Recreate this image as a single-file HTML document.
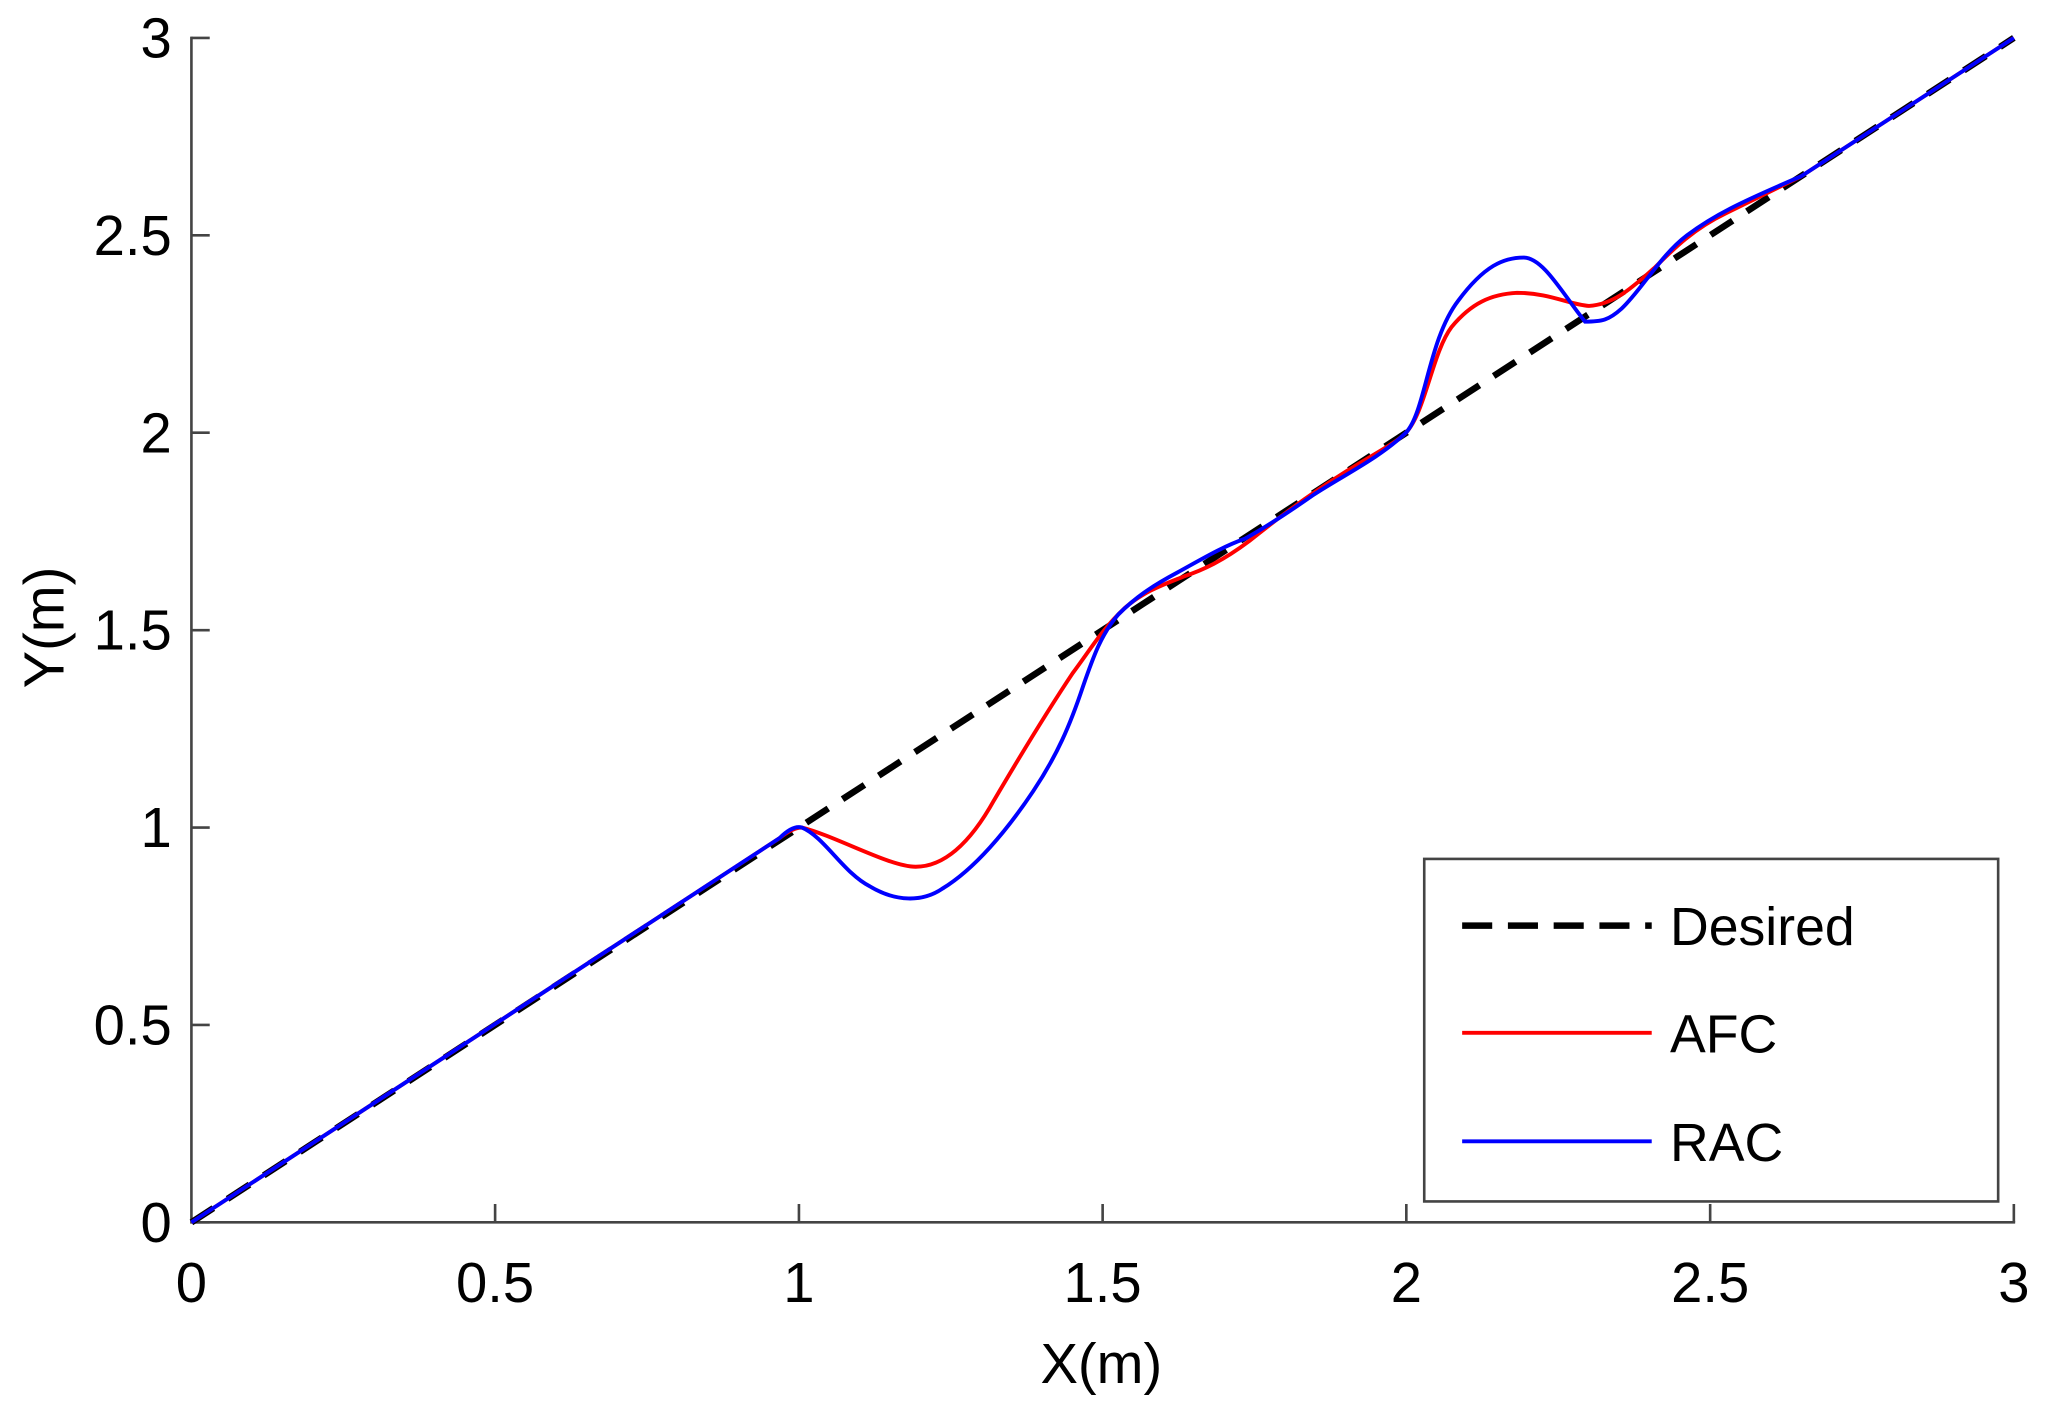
<!DOCTYPE html>
<html><head><meta charset="utf-8"><style>html,body{margin:0;padding:0;background:#fff}svg{display:block}</style></head>
<body>
<svg width="2051" height="1408" viewBox="0 0 1568 1077" xmlns="http://www.w3.org/2000/svg" font-family="Liberation Sans, Arial, sans-serif">
<rect width="1568" height="1077" fill="#fff"/>
<g stroke="#444" stroke-width="2" fill="none">
<path d="M146,28 V935 H1541"/>
<path d="M146,935 h14 M146,784 h14 M146,633 h14 M146,482 h14 M146,331 h14 M146,180 h14 M146,29 h14"/>
<path d="M378.3,935 v-14 M610.7,935 v-14 M843,935 v-14 M1075.3,935 v-14 M1307.7,935 v-14 M1540,935 v-14"/>
</g>
<g font-size="43" fill="#000">
<g text-anchor="end">
<text x="131" y="950">0</text><text x="131" y="799">0.5</text><text x="131" y="648">1</text>
<text x="131" y="497">1.5</text><text x="131" y="346">2</text><text x="131" y="195">2.5</text><text x="131" y="44">3</text>
</g>
<g text-anchor="middle">
<text x="146" y="996">0</text><text x="378.3" y="996">0.5</text><text x="610.7" y="996">1</text>
<text x="843" y="996">1.5</text><text x="1075.3" y="996">2</text><text x="1307.7" y="996">2.5</text><text x="1540" y="996">3</text>
<text x="842" y="1058">X(m)</text>
<text transform="translate(48,480) rotate(-90)">Y(m)</text>
</g>
</g>
<path d="M146,935 L1540,29" stroke="#000" stroke-width="5" stroke-dasharray="20 13" fill="none"/>
<!-- AFC -->
<path d="M146,935 L596,641 Q606,633 613,633 C640,640 680,663 700,663 C720,663 740,648 760,612 C780,578 800,545 820,515 C835,495 842,482 860,465 C875,452 890,447 905,441 C920,436 935,429 955,414 C985,390 1010,372 1040,354 C1055,345 1068,338 1075,331 C1090,315 1095,270 1110,250 C1125,232 1140,225 1160,224 C1185,224 1200,233 1215,234 C1235,233 1250,218 1265,205 C1280,190 1295,175 1320,163 L1377,135 L1540,29" stroke="#ff0000" stroke-width="3" fill="none"/>
<!-- RAC -->
<path d="M146,935 L596,641 Q606,631 613,633 C630,640 645,668 665,678 C685,690 705,690 720,680 C745,665 770,635 790,605 C808,578 818,555 828,525 C836,502 842,485 855,470 C870,455 885,446 900,438 C920,427 935,418 952,412 C970,402 985,392 1005,378 C1030,362 1055,350 1075,331 C1090,315 1092,260 1115,230 C1135,203 1150,197 1165,197 C1180,197 1195,225 1212,246 C1225,246 1230,245 1240,236 C1255,222 1270,195 1290,180 C1310,165 1330,155 1377,135 L1540,29" stroke="#0000ff" stroke-width="3" fill="none"/>
<rect x="1089" y="657" width="439" height="262" fill="#fff" stroke="#444" stroke-width="2"/>
<path d="M1118,708 H1263" stroke="#000" stroke-width="5" stroke-dasharray="23 12"/>
<path d="M1118,790 H1263" stroke="#ff0000" stroke-width="3"/>
<path d="M1118,873 H1263" stroke="#0000ff" stroke-width="3"/>
<g font-size="41" fill="#000">
<text x="1277" y="723">Desired</text>
<text x="1277" y="805">AFC</text>
<text x="1277" y="888">RAC</text>
</g>
</svg>
</body></html>
